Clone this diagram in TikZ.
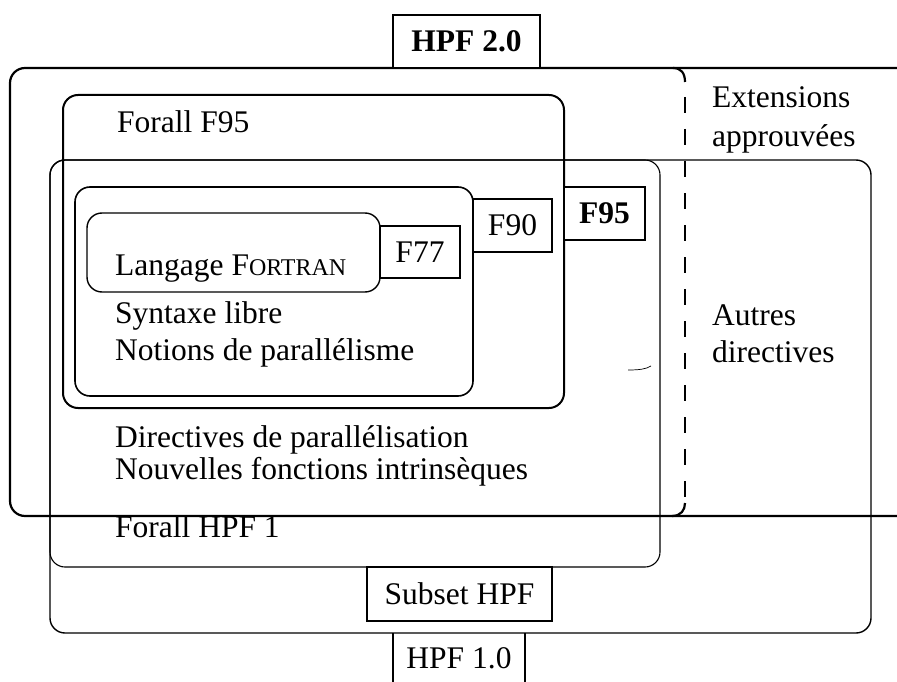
\documentclass[tikz,border=0pt]{standalone}
\usepackage{fontspec}
\setmainfont{Liberation Serif}
\begin{document}
\begin{tikzpicture}[x=1pt, y=-1pt,
  every node/.style={font=\fontsize{31.5}{38}\selectfont, inner sep=0pt},
  region/.style={draw, rounded corners=15pt},
  lbl/.style={draw, line width=1.4pt, fill=white},
  txt/.style={anchor=base west}]
\useasboundingbox (0,0) rectangle (897,682);

% HPF 1.0 (outer) and HPF 1 regions
\draw[region, line width=1.4pt] (50,160) rectangle (871,633);
\draw[region, line width=1.1pt] (50,160) rectangle (660,567);

% HPF 2.0 region, open towards the approved extensions
\draw[line width=2.2pt, rounded corners=15pt] (897,68) -- (10,68) -- (10,516) -- (897,516);
\draw[line width=2.2pt] (673,68) .. controls (681,68) and (685,73) .. (685,82);
\draw[line width=2.6pt, dash pattern=on 16pt off 16pt] (685,97) -- (685,497);
\draw[line width=2.2pt] (685,503) .. controls (685,510) and (681,516) .. (672,516);

% Fortran 95 forall, Fortran 90 and Fortran 77 regions
\draw[region, line width=2pt] (63,95) rectangle (564,408);
\draw[region, line width=1.6pt] (75,187) rectangle (473,396);
\draw[region, line width=1.4pt] (87,213) rectangle (380,292);

% small stray stroke
\draw[line width=0.7pt] (628,370) .. controls (640,370) and (646,369) .. (651,366);

% labelled tabs
\node[lbl, line width=1.8pt, minimum width=147pt, minimum height=53pt, font=\fontsize{31.5}{38}\selectfont\bfseries] (hpf20) at (466.5,41.5) {HPF 2.0};
\node[lbl, minimum width=80pt, minimum height=52pt] (f77) at (420,252) {F77};
\node[lbl, minimum width=79pt, minimum height=53pt] (f90) at (512.5,225.5) {F90};
\node[lbl, line width=2.4pt, minimum width=81pt, minimum height=53pt, font=\fontsize{31.5}{38}\selectfont\bfseries] (f95) at (604.5,213.5) {F95};
\node[lbl, minimum width=185pt, minimum height=54pt] (subset) at (459.5,594) {Subset HPF};
\node (hpf10) at (459,658) {HPF 1.0};
\draw[line width=1.4pt] (393,633) -- (393,682) (525,633) -- (525,682);

% region contents
\node[txt] (t1) at (117,133) {Forall F95};
\node[txt] (t2) at (115,275) {Langage F{\fontsize{24}{28}\selectfont ORTRAN}};
\node[txt] (t3) at (115,323) {Syntaxe libre};
\node[txt] (t4) at (115,360) {Notions de parallélisme};
\node[txt] (t5) at (115,447) {Directives de parallélisation};
\node[txt] (t6) at (115,479) {Nouvelles fonctions intrinsèques};
\node[txt] (t7) at (115,537) {Forall HPF 1};
\node[txt] (t8) at (712,108) {Extensions};
\node[txt] (t9) at (712,147) {approuvées};
\node[txt] (t10) at (712,325) {Autres};
\node[txt] (t11) at (712,362) {directives};
\end{tikzpicture}
\end{document}
